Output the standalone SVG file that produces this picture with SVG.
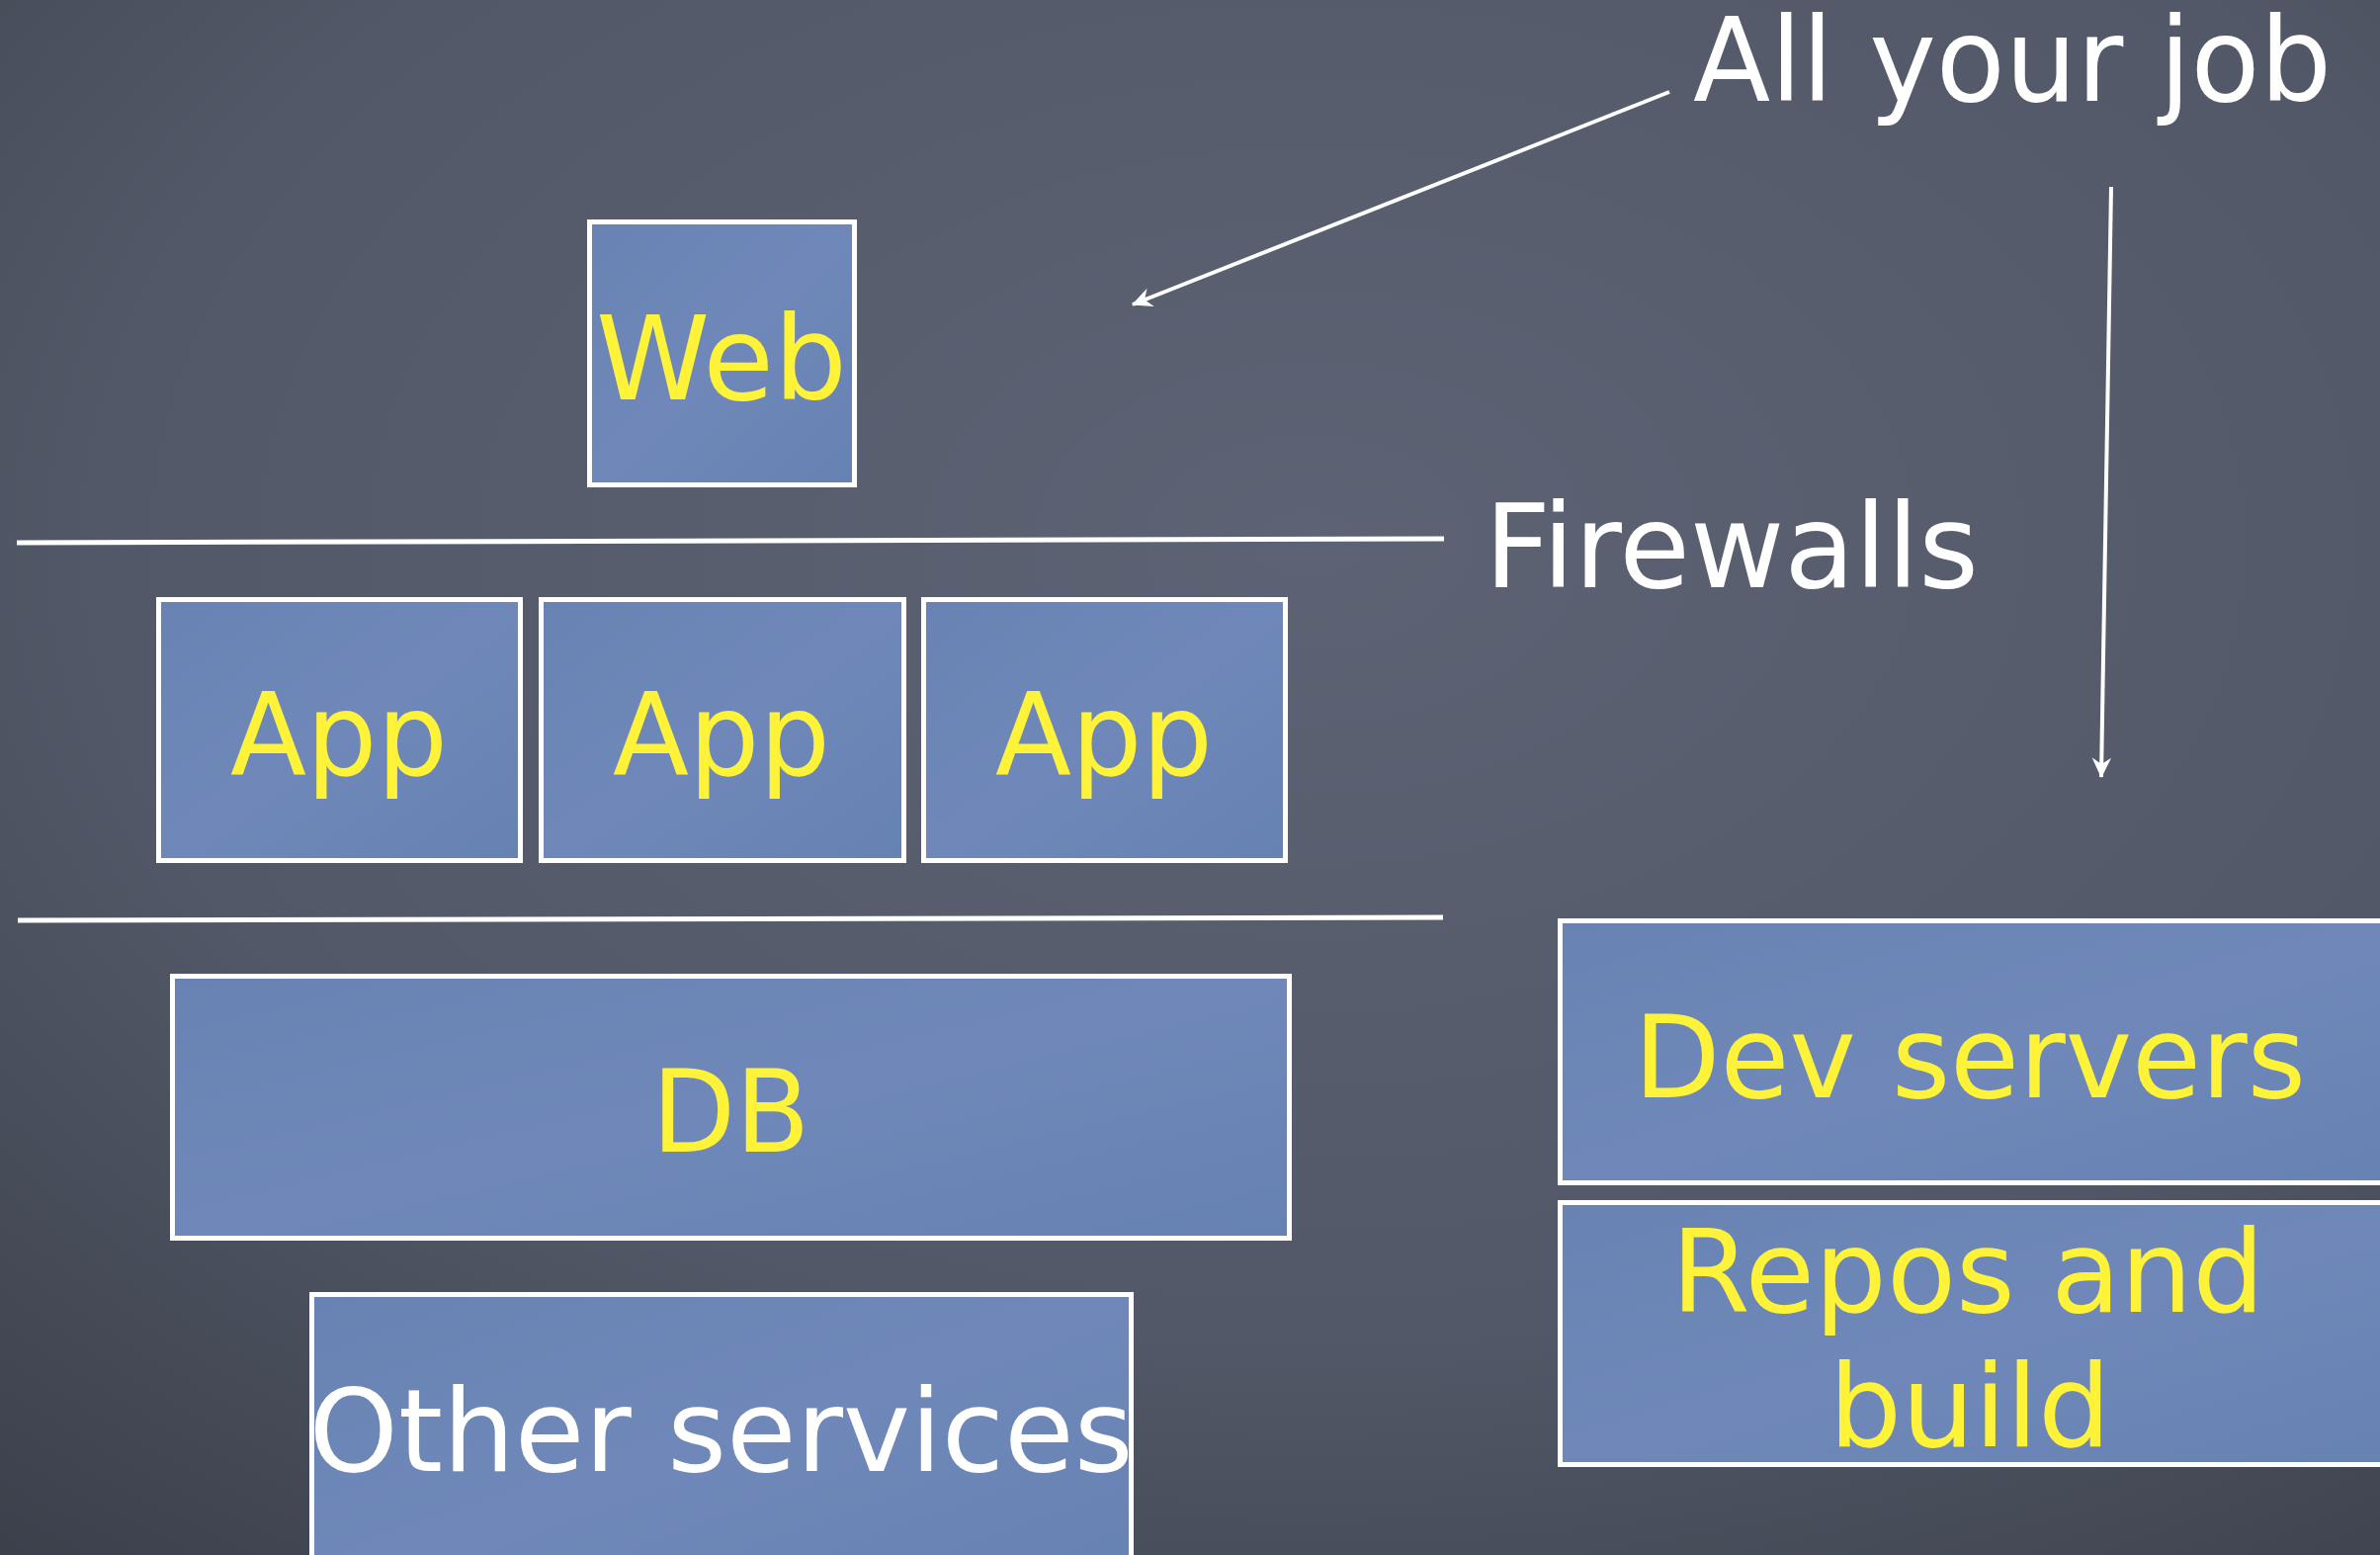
<svg xmlns="http://www.w3.org/2000/svg" width="2408" height="1573" viewBox="0 0 2408 1573">
  <defs>
    <radialGradient id="bg" cx="0.55" cy="0.35" r="0.85">
      <stop offset="0" stop-color="#5d6374"/>
      <stop offset="0.6" stop-color="#525867"/>
      <stop offset="1" stop-color="#3c404b"/>
    </radialGradient>
    <linearGradient id="box" x1="0" y1="0" x2="1" y2="1">
      <stop offset="0" stop-color="#6883b3"/>
      <stop offset="0.5" stop-color="#6f88b9"/>
      <stop offset="1" stop-color="#6682b2"/>
    </linearGradient>
    <marker id="arr" markerUnits="userSpaceOnUse" markerWidth="26" markerHeight="26" viewBox="-22 -12 24 24" refX="0" refY="0" orient="auto">
      <path d="M1,0 L-18,-9 L-12,0 L-18,9 Z" fill="#ffffff"/>
    </marker>
  </defs>
  <style>
    .node rect { fill: url(#box); stroke: #ffffff; stroke-width: 5; }
    .lbl { font-family: "DejaVu Sans", "Liberation Sans", sans-serif; font-size: 116px; text-anchor: middle; fill: #fff33a; }
    .wht { fill: #ffffff; }
    .note { font-family: "DejaVu Sans", "Liberation Sans", sans-serif; font-size: 117px; fill: #ffffff; }
    .wall { stroke: #ffffff; stroke-width: 5; fill: none; }
    .conn { stroke: #ffffff; stroke-width: 4; fill: none; marker-end: url(#arr); }
  </style>
  <rect x="0" y="0" width="2408" height="1573" fill="url(#bg)"/>

  <g id="firewalls">
    <line class="wall" x1="17" y1="549" x2="1461" y2="545"/>
    <line class="wall" x1="18" y1="931" x2="1460" y2="928"/>
    <text class="note" x="1502" y="594" textLength="500" lengthAdjust="spacingAndGlyphs">Firewalls</text>
  </g>

  <g id="web" class="node">
    <rect x="596.5" y="224.5" width="268" height="266"/>
    <text class="lbl" x="730" y="404" style="font-size:118px" textLength="254" lengthAdjust="spacingAndGlyphs">Web</text>
  </g>
  <g id="app1" class="node">
    <rect x="160.5" y="606.5" width="366" height="264"/>
    <text class="lbl" x="343" y="784" textLength="220" lengthAdjust="spacingAndGlyphs">App</text>
  </g>
  <g id="app2" class="node">
    <rect x="547.5" y="606.5" width="367" height="264"/>
    <text class="lbl" x="730" y="784" textLength="220" lengthAdjust="spacingAndGlyphs">App</text>
  </g>
  <g id="app3" class="node">
    <rect x="934.5" y="606.5" width="366" height="264"/>
    <text class="lbl" x="1117" y="784" textLength="220" lengthAdjust="spacingAndGlyphs">App</text>
  </g>
  <g id="db" class="node">
    <rect x="174.5" y="987.5" width="1130" height="265"/>
    <text class="lbl" x="739.5" y="1165" textLength="160" lengthAdjust="spacingAndGlyphs">DB</text>
  </g>
  <g id="other" class="node">
    <rect x="315.5" y="1309.5" width="829" height="300"/>
    <text class="lbl wht" x="729.5" y="1488" textLength="834" lengthAdjust="spacingAndGlyphs">Other services</text>
  </g>
  <g id="dev" class="node">
    <rect x="1578.5" y="931.5" width="900" height="265"/>
    <text class="lbl" x="1993" y="1110" textLength="680" lengthAdjust="spacingAndGlyphs">Dev servers</text>
  </g>
  <g id="repos" class="node">
    <rect x="1578.5" y="1216.5" width="900" height="265"/>
    <text class="lbl" x="1991" y="1327" textLength="600" lengthAdjust="spacingAndGlyphs">Repos and</text>
    <text class="lbl" x="1993" y="1463">build</text>
  </g>

  <g id="note">
    <text class="note" x="1713" y="102" textLength="646" lengthAdjust="spacingAndGlyphs">All your job</text>
  </g>

  <g id="connectors">
    <line class="conn" x1="1689" y1="93" x2="1146" y2="308"/>
    <line class="conn" x1="2136" y1="189" x2="2126" y2="786"/>
  </g>
</svg>
